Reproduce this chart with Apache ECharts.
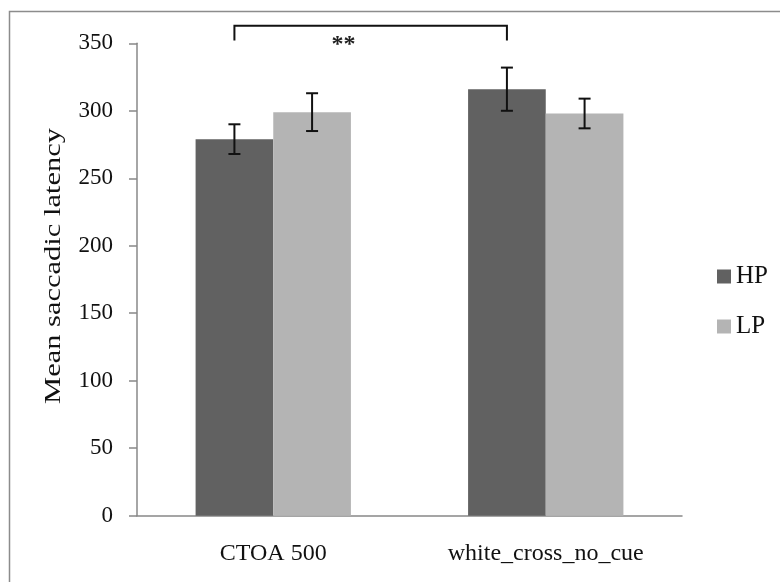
<!DOCTYPE html>
<html>
<head>
<meta charset="utf-8">
<script src="https://cdn.jsdelivr.net/npm/echarts@6/dist/echarts.min.js"></script>
<style>html,body{margin:0;padding:0;background:#fff}#c{width:780px;height:582px}</style>
</head>
<body>
<div id="c"></div>
<script>
const categories = ['CTOA 500', 'white_cross_no_cue'];
const seriesNames = ['HP', 'LP'];
const hpValues = [279, 316];
const lpValues = [299, 298];
const hpErrors = [11, 16];
const lpErrors = [14, 11];
const yMin = 0, yMax = 350, yInterval = 50;
const yAxisTitle = 'Mean saccadic latency';
const bracketPair = [0, 1];
const bracketTop = 363;
const bracketLegBottom = 352;
const bracketLabel = '**';

const FONT = '"Liberation Serif", "Times New Roman", serif';
const HP_COLOR = '#616161';
const LP_COLOR = '#b4b4b4';
const AXIS_COLOR = '#888888';
const CAT_GAP = 0.43;

function barOffset(api, sIdx) {
  const band = api.size([1, 0])[0];
  const bw = band * (1 - CAT_GAP) / 2;
  return sIdx === 0 ? -bw / 2 : bw / 2;
}

function errorSeries(values, errors, sIdx) {
  return {
    type: 'custom',
    z: 10,
    clip: false,
    silent: true,
    data: values.map((v, i) => [i, v, errors[i]]),
    renderItem: function (params, api) {
      const i = api.value(0), v = api.value(1), e = api.value(2);
      const x = api.coord([i, v])[0] + barOffset(api, sIdx);
      const yt = api.coord([i, v + e])[1];
      const yb = api.coord([i, v - e])[1];
      const cap = 6;
      const st = { stroke: '#111', lineWidth: 2 };
      return {
        type: 'group',
        children: [
          { type: 'line', shape: { x1: x, y1: yt, x2: x, y2: yb }, style: st },
          { type: 'line', shape: { x1: x - cap, y1: yt, x2: x + cap, y2: yt }, style: st },
          { type: 'line', shape: { x1: x - cap, y1: yb, x2: x + cap, y2: yb }, style: st }
        ]
      };
    }
  };
}

const chart = echarts.init(document.getElementById('c'), null, { renderer: 'canvas' });
chart.setOption({
  animation: false,
  backgroundColor: '#ffffff',
  grid: { left: 137, right: 98, top: 43.3, bottom: 66.3, containLabel: false },
  legend: {
    orient: 'vertical',
    left: 717,
    top: 264,
    padding: 0,
    itemWidth: 14,
    itemHeight: 14,
    itemGap: 25,
    icon: 'rect',
    data: seriesNames,
    textStyle: { fontFamily: FONT, fontSize: 25, color: '#111', lineHeight: 24 }
  },
  xAxis: {
    type: 'category',
    data: categories,
    axisLine: { lineStyle: { color: AXIS_COLOR, width: 1.5 } },
    axisTick: { show: false },
    axisLabel: { fontFamily: FONT, fontSize: 24, color: '#111', margin: 26 }
  },
  yAxis: {
    type: 'value',
    min: yMin,
    max: yMax,
    interval: yInterval,
    axisLine: { show: true, lineStyle: { color: AXIS_COLOR, width: 1.5 } },
    axisTick: { show: true, length: 8, lineStyle: { color: AXIS_COLOR, width: 1.5 } },
    splitLine: { show: false },
    axisLabel: { fontFamily: FONT, fontSize: 23, color: '#111', margin: 24 }
  },
  graphic: [
    {
      type: 'rect',
      shape: { x: 9.5, y: 11.5, width: 900, height: 700 },
      style: { fill: 'none', stroke: '#8c8c8c', lineWidth: 1.5 },
      silent: true, z: -1
    },
    {
      type: 'text',
      x: 54, y: 266,
      rotation: Math.PI / 2,
      scaleX: 1.27, scaleY: 1,
      style: { text: yAxisTitle, fontFamily: FONT, fontSize: 24, fill: '#111', align: 'center', verticalAlign: 'middle' },
      silent: true
    }
  ],
  series: [
    {
      name: seriesNames[0], type: 'bar', data: hpValues,
      barGap: '0%', barCategoryGap: (CAT_GAP * 100) + '%',
      itemStyle: { color: HP_COLOR }
    },
    {
      name: seriesNames[1], type: 'bar', data: lpValues,
      barGap: '0%', barCategoryGap: (CAT_GAP * 100) + '%',
      itemStyle: { color: LP_COLOR }
    },
    errorSeries(hpValues, hpErrors, 0),
    errorSeries(lpValues, lpErrors, 1),
    {
      type: 'custom',
      clip: false,
      silent: true,
      z: 10,
      data: [[bracketPair[0], bracketPair[1], bracketTop, bracketLegBottom]],
      renderItem: function (params, api) {
        const a = api.value(0), b = api.value(1), top = api.value(2), leg = api.value(3);
        const off = barOffset(api, 0);
        const xa = api.coord([a, top])[0] + off;
        const xb = api.coord([b, top])[0] + off;
        const yt = api.coord([a, top])[1];
        const yl = api.coord([a, leg])[1];
        const band = api.size([1, 0])[0];
        const st = { stroke: '#111', lineWidth: 2, fill: 'none' };
        return {
          type: 'group',
          children: [
            { type: 'polyline', shape: { points: [[xa, yl], [xa, yt], [xb, yt], [xb, yl]] }, style: st },
            { type: 'text', x: (xa + xb) / 2 - band * 0.1, y: yl + 4,
              style: { text: bracketLabel, fontFamily: FONT, fontSize: 24, fontWeight: 'bold', fill: '#222', align: 'center', verticalAlign: 'middle' } }
          ]
        };
      }
    }
  ]
});
</script>
</body>
</html>
